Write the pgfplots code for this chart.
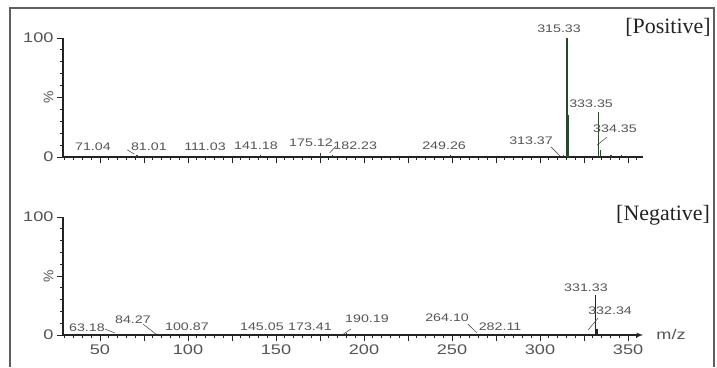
\documentclass[border=0pt]{standalone}
\usepackage{graphicx}
\usepackage{pgfplots}
\pgfplotsset{compat=1.18}
\usepackage{fontspec}
\setmainfont{Liberation Sans}
\newfontfamily\tickfont{Liberation Sans}
\newfontfamily\seriffont{Liberation Serif}
\newcommand{\sx}[1]{\scalebox{1.3}[1]{#1}}
\definecolor{txt}{RGB}{85,85,85}
\definecolor{axc}{RGB}{35,35,35}
\definecolor{pk}{RGB}{40,72,45}
\definecolor{frm}{RGB}{95,95,95}
\begin{document}
\begin{tikzpicture}[x=1bp,y=1bp,
  lab/.style={font=\tickfont\fontsize{11}{11}\selectfont, text=txt, inner sep=0pt},
  ldr/.style={color=txt, line width=0.6bp}]
\path[fill=white] (0,0) rectangle (717,367);
\draw[line width=1.8bp, color=frm] (10,0) -- (10,359) -- (714,359) -- (714,0);
\pgfplotsset{ms/.style={
  scale only axis, width=580bp,
  xmin=29, xmax=358.5, ymin=0, ymax=100,
  axis lines=left, axis line style={-, color=axc, line width=1.1bp},
  clip=false,
  xtick={50,75,...,350}, minor xtick={30,35,...,355},
  ytick={0,50,100}, minor ytick={10,20,...,90},
  yticklabels={\sx{0},{\rotatebox{90}{\%}},\sx{100}},
  tick align=outside, major tick length=6bp, minor tick length=3bp,
  tick style={color=axc, line width=0.8bp},
  ticklabel style={font=\tickfont\fontsize{14}{14}\selectfont, text=txt},
}}
% Positive
\begin{axis}[ms, at={(63bp,210bp)}, anchor=south west, height=119bp,
  xticklabels={}]
\addplot[ycomb, no marks, color=pk, line width=1.3bp] coordinates {
 (71.04,1.5) (81.01,1.2) (111.03,1.0) (141.18,1.5) (175.12,3.0) (182.23,1.5)
 (249.26,2.0) (313.37,1.5) (315.33,100) (316.33,35) (333.35,38) (334.35,6)
 (340.3,1.5) (346.2,1.5) (350.1,1.2)};
\node[lab] at (axis cs:46,8.4) {\sx{71.04}};
\draw[ldr] (axis cs:65.5,6) -- (axis cs:69.5,2.5);
\node[lab] at (axis cs:77.8,8.4) {\sx{81.01}};
\node[lab] at (axis cs:109.7,8.4) {\sx{111.03}};
\node[lab] at (axis cs:138.6,9.2) {\sx{141.18}};
\node[lab] at (axis cs:169.9,11.8) {\sx{175.12}};
\draw[ldr] (axis cs:180.5,3.5) -- (axis cs:184,9);
\node[lab] at (axis cs:195,9.6) {\sx{182.23}};
\node[lab] at (axis cs:245.5,9.2) {\sx{249.26}};
\node[lab] at (axis cs:294.9,13.4) {\sx{313.37}};
\draw[ldr] (axis cs:306.3,8.4) -- (axis cs:311.4,0.8);
\node[lab] at (axis cs:310.8,107.6) {\sx{315.33}};
\node[lab] at (axis cs:329,44.5) {\sx{333.35}};
\node[lab] at (axis cs:342.6,23.5) {\sx{334.35}};
\draw[ldr] (axis cs:332.4,10) -- (axis cs:338.1,16.8);
\node[font=\seriffont\fontsize{22}{22}\selectfont, text=axc, inner sep=0pt] at (axis cs:372.7,109.2) {[Positive]};
\end{axis}
% Negative
\begin{axis}[ms, at={(63bp,32bp)}, anchor=south west, height=118bp,
  x axis line style={-latex},
  xticklabels={\sx{50},,\sx{100},,\sx{150},,\sx{200},,\sx{250},,\sx{300},,\sx{350}}]
\addplot[ycomb, no marks, color=axc, line width=1.1bp] coordinates {
 (63.18,1.0) (84.27,1.0) (100.87,1.0) (145.05,1.0) (173.41,1.0) (190.19,1.5)
 (264.10,1.0) (282.11,1.0) (331.33,34) (332.34,5) (340.2,1.2) (346.1,1.0)};
\node[lab] at (axis cs:42.6,5.9) {\sx{63.18}};
\draw[ldr] (axis cs:52.8,5.1) -- (axis cs:58.5,1.7);
\node[lab] at (axis cs:68.75,12.7) {\sx{84.27}};
\draw[ldr] (axis cs:74.4,9.3) -- (axis cs:81.8,0.8);
\node[lab] at (axis cs:99.4,6.8) {\sx{100.87}};
\node[lab] at (axis cs:142,6.8) {\sx{145.05}};
\node[lab] at (axis cs:169.3,6.8) {\sx{173.41}};
\node[lab] at (axis cs:201.7,13.6) {\sx{190.19}};
\draw[ldr] (axis cs:188,0.5) -- (axis cs:192.6,5.1);
\node[lab] at (axis cs:247.2,14.4) {\sx{264.10}};
\draw[ldr] (axis cs:259,9.3) -- (axis cs:264.2,1.7);
\node[lab] at (axis cs:277.3,6.8) {\sx{282.11}};
\node[lab] at (axis cs:326.1,39.8) {\sx{331.33}};
\node[lab] at (axis cs:339.8,20.3) {\sx{332.34}};
\draw[ldr] (axis cs:327.3,4.2) -- (axis cs:333,14.4);
\node[font=\tickfont\fontsize{14}{14}\selectfont, text=txt, inner sep=0pt] at (axis cs:374.4,0) {\sx{m/z}};
\node[font=\seriffont\fontsize{22}{22}\selectfont, text=axc, inner sep=0pt] at (axis cs:369.9,101.7) {[Negative]};
\end{axis}
\end{tikzpicture}
\end{document}
